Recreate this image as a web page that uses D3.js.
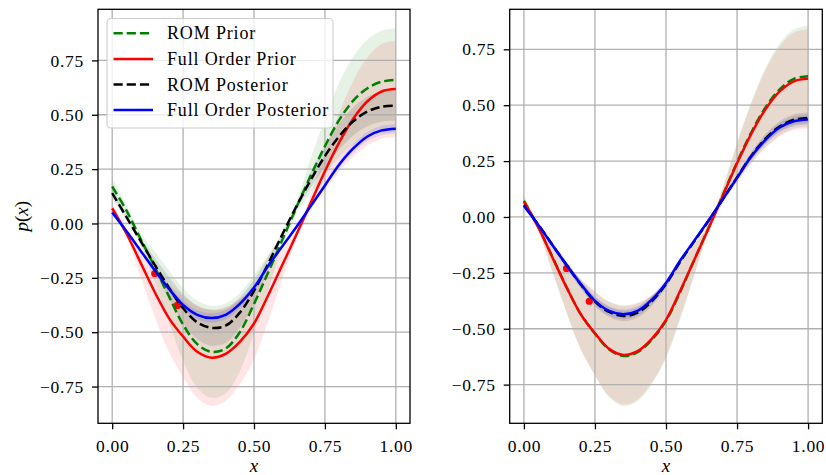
<!DOCTYPE html>
<html><head><meta charset="utf-8">
<script src="https://cdn.jsdelivr.net/npm/d3@7"></script>
<style>body{margin:0;background:#fff}svg{display:block}</style>
</head><body>
<svg id="c" width="826" height="475"></svg>
<script>
// ---------- data ----------
const xs = [0,0.05,0.1,0.15,0.2,0.25,0.3,0.35,0.4,0.45,0.5,0.55,0.6,0.65,0.7,0.75,0.8,0.85,0.9,0.95,1.0];
const seriesNames = ["ROM Prior","Full Order Prior","ROM Posterior","Full Order Posterior"];

const fullPriorMean = [0.07,-0.045,-0.18,-0.315,-0.435,-0.52,-0.59,-0.617,-0.60,-0.545,-0.46,-0.33,-0.19,-0.05,0.095,0.24,0.372,0.482,0.562,0.607,0.618];
const fullPriorHalf = [0.025,0.016,0.065,0.113,0.157,0.187,0.212,0.222,0.216,0.196,0.166,0.119,0.068,0.018,0.034,0.086,0.134,0.174,0.202,0.218,0.222];

const fullPostMean = [0.05,-0.035,-0.125,-0.215,-0.30,-0.375,-0.42,-0.435,-0.42,-0.37,-0.295,-0.195,-0.105,-0.015,0.08,0.175,0.27,0.345,0.40,0.428,0.436];
const fullPostHalf = [0.01,0.008,0.01,0.013,0.016,0.019,0.021,0.022,0.021,0.019,0.016,0.012,0.009,0.008,0.009,0.012,0.016,0.019,0.021,0.022,0.022];

const romPriorLeftMean = [0.17,0.06,-0.07,-0.2,-0.335,-0.465,-0.555,-0.59,-0.575,-0.50,-0.37,-0.225,-0.075,0.075,0.22,0.355,0.475,0.565,0.622,0.652,0.66];
const romPriorLeftHalf = [0.04,0.025,0.028,0.072,0.12,0.167,0.2,0.212,0.207,0.18,0.133,0.081,0.027,0.027,0.079,0.128,0.171,0.203,0.224,0.235,0.238];

const romPostLeftMean = [0.14,0.03,-0.08,-0.19,-0.295,-0.39,-0.455,-0.48,-0.47,-0.41,-0.31,-0.185,-0.05,0.08,0.20,0.31,0.40,0.47,0.515,0.537,0.542];
const romPostLeftHalf = [0.025,0.01,0.015,0.032,0.05,0.066,0.077,0.082,0.08,0.07,0.053,0.032,0.01,0.014,0.034,0.05,0.06,0.065,0.068,0.069,0.07];

const romPriorRightMean = [0.072,-0.043,-0.178,-0.313,-0.435,-0.522,-0.593,-0.622,-0.605,-0.55,-0.465,-0.335,-0.19,-0.048,0.098,0.245,0.378,0.49,0.571,0.618,0.63];
const romPriorRightHalf = [0.026,0.016,0.064,0.113,0.157,0.188,0.213,0.224,0.218,0.198,0.167,0.121,0.068,0.017,0.035,0.088,0.136,0.176,0.206,0.222,0.227];

const romPostRightMean = [0.052,-0.033,-0.124,-0.215,-0.302,-0.378,-0.425,-0.443,-0.428,-0.377,-0.3,-0.2,-0.108,-0.017,0.08,0.177,0.273,0.35,0.405,0.435,0.443];
const romPostRightHalf = [0.012,0.009,0.012,0.015,0.018,0.021,0.023,0.024,0.023,0.021,0.018,0.014,0.01,0.009,0.01,0.014,0.018,0.021,0.023,0.024,0.024];

const obsX = [0.15, 0.23];
const obsY = [-0.23, -0.377];

const xTicks = [0, 0.25, 0.5, 0.75, 1.0];
const yTicks = [-0.75, -0.5, -0.25, 0, 0.25, 0.5, 0.75];

// ---------- styles ----------
const colors = ["#008000", "#ff0000", "#000000", "#0000ff"];
const dashes = ["9.2,4", null, "9.2,4", null];
const FONT = "'Liberation Serif','DejaVu Serif',serif";

const panels = [
  {left: 98, right: 410, top: 9.3, bottom: 423.3, ydom: [-0.919, 0.985], legend: true,
   series: [[romPriorLeftMean, romPriorLeftHalf],[fullPriorMean, fullPriorHalf],[romPostLeftMean, romPostLeftHalf],[fullPostMean, fullPostHalf]]},
  {left: 509.7, right: 822.3, top: 9.3, bottom: 423.3, ydom: [-0.923, 0.929], legend: false,
   series: [[romPriorRightMean, romPriorRightHalf],[fullPriorMean, fullPriorHalf],[romPostRightMean, romPostRightHalf],[fullPostMean, fullPostHalf]]}
];

const svg = d3.select("#c");
const fmt = v => (v < 0 ? "\u2212" : "") + Math.abs(v).toFixed(2);

panels.forEach((p, pi) => {
  const x = d3.scaleLinear().domain([-0.05, 1.05]).range([p.left, p.right]);
  const y = d3.scaleLinear().domain(p.ydom).range([p.bottom, p.top]);
  const g = svg.append("g");
  const clipId = "clip" + pi;
  svg.append("defs").append("clipPath").attr("id", clipId)
    .append("rect").attr("x", p.left).attr("y", p.top)
    .attr("width", p.right - p.left).attr("height", p.bottom - p.top);
  const plot = g.append("g").attr("clip-path", `url(#${clipId})`);

  // bands
  p.series.forEach(([m, h], i) => {
    const area = d3.area()
      .x((d, k) => x(xs[k]))
      .y0((d, k) => y(m[k] - h[k]))
      .y1((d, k) => y(m[k] + h[k]))
      .curve(d3.curveCatmullRom);
    plot.append("path").attr("d", area(m)).attr("fill", colors[i]).attr("fill-opacity", 0.1);
  });

  // grid
  plot.selectAll(".gx").data(xTicks).enter().append("line")
    .attr("x1", d => x(d)).attr("x2", d => x(d)).attr("y1", p.top).attr("y2", p.bottom)
    .attr("stroke", "#b0b0b0").attr("stroke-width", 1.3);
  plot.selectAll(".gy").data(yTicks).enter().append("line")
    .attr("y1", d => y(d)).attr("y2", d => y(d)).attr("x1", p.left).attr("x2", p.right)
    .attr("stroke", "#b0b0b0").attr("stroke-width", 1.3);

  // observations
  plot.selectAll(".obs").data(obsX).enter().append("circle")
    .attr("cx", d => x(d)).attr("cy", (d, k) => y(obsY[k])).attr("r", 3.6).attr("fill", "#ff0000");

  // mean lines
  p.series.forEach(([m], i) => {
    const line = d3.line().x((d, k) => x(xs[k])).y(d => y(d)).curve(d3.curveCatmullRom);
    plot.append("path").attr("d", line(m)).attr("fill", "none")
      .attr("stroke", colors[i]).attr("stroke-width", 2.5)
      .attr("stroke-dasharray", dashes[i]);
  });

  // axes
  const ax = g.append("g").attr("transform", `translate(0,${p.bottom})`)
    .call(d3.axisBottom(x).tickValues(xTicks).tickFormat(fmt).tickSize(6).tickPadding(10));
  const ay = g.append("g").attr("transform", `translate(${p.left},0)`)
    .call(d3.axisLeft(y).tickValues(yTicks).tickFormat(fmt).tickSize(6).tickPadding(8));
  [ax, ay].forEach(a => {
    a.select(".domain").remove();
    a.selectAll(".tick line").attr("stroke", "#000").attr("stroke-width", 1.3);
    a.selectAll(".tick text").attr("fill", "#000").style("font-family", FONT)
      .style("font-size", "17.5px").style("letter-spacing", "0.7px");
  });

  // frame
  g.append("rect").attr("x", p.left).attr("y", p.top)
    .attr("width", p.right - p.left).attr("height", p.bottom - p.top)
    .attr("fill", "none").attr("stroke", "#000").attr("stroke-width", 1.3);

  // x label
  g.append("text").attr("x", (p.left + p.right) / 2).attr("y", 472)
    .attr("text-anchor", "middle").style("font-family", FONT).style("font-size", "19px")
    .style("font-style", "italic").text("x");

  if (pi === 0) {
    const yl = g.append("text").attr("transform", `translate(28,${(p.top + p.bottom) / 2}) rotate(-90)`)
      .attr("text-anchor", "middle").style("font-family", FONT).style("font-size", "19px");
    yl.append("tspan").style("font-style", "italic").text("p");
    yl.append("tspan").text("(");
    yl.append("tspan").style("font-style", "italic").text("x");
    yl.append("tspan").text(")");
  }

  if (p.legend) {
    const lg = g.append("g");
    lg.append("rect").attr("x", 107).attr("y", 18.5).attr("width", 226).attr("height", 109.5)
      .attr("rx", 4).attr("fill", "#fff").attr("fill-opacity", 0.8)
      .attr("stroke", "#cccccc").attr("stroke-width", 1.1);
    seriesNames.forEach((name, i) => {
      const ry = 33.3 + i * 25.6;
      lg.append("line").attr("x1", 113.5).attr("x2", 153).attr("y1", ry).attr("y2", ry)
        .attr("stroke", colors[i]).attr("stroke-width", 2.5).attr("stroke-dasharray", dashes[i]);
      lg.append("text").attr("x", 167).attr("y", ry + 6)
        .style("font-family", FONT).style("font-size", "18px").style("letter-spacing", "0.85px").text(name);
    });
  }
});
</script>
</body></html>
